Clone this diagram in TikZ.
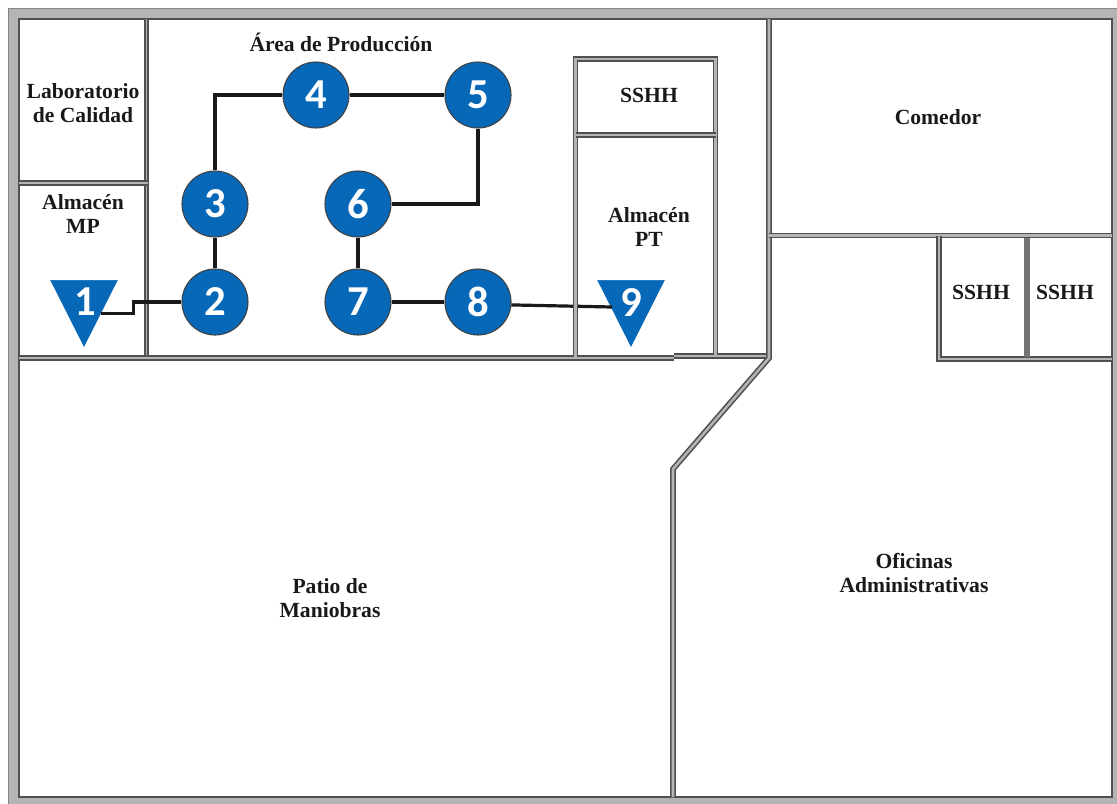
\documentclass[tikz,border=0pt]{standalone}
\usepackage{fontspec}
\setmainfont{Liberation Serif}
\newfontfamily\numfont{Carlito}
\usetikzlibrary{shapes.geometric}
\definecolor{procblue}{HTML}{0868B8}
\definecolor{walldark}{HTML}{505050}
\definecolor{wallmid}{HTML}{B4B4B4}
\tikzset{
  px/.style={x=0.75pt,y=-0.75pt},
  wall/.style={draw=walldark,line width=1.2pt,double=wallmid,double distance=1.9pt,line join=miter},
  thickwall/.style={draw=walldark!80,line width=4.6pt},
  proc/.style={circle,draw=black!75,line width=0.8pt,fill=procblue,minimum size=49.5pt,inner sep=0pt,text=white,font=\numfont\bfseries\fontsize{32}{32}\selectfont},
  store/.style={isosceles triangle,isosceles triangle stretches,shape border rotate=-90,fill=procblue,draw=procblue,line width=0.4pt,minimum width=50pt,minimum height=49.5pt,inner sep=0pt,anchor=apex},
  storenum/.style={text=white,inner sep=0pt,font=\numfont\bfseries\fontsize{32}{32}\selectfont},
  room/.style={align=center,text=black!90,inner sep=0pt,font=\bfseries\fontsize{16.2}{18.4}\selectfont},
  flow/.style={draw=black!90,line width=2.4pt,line join=miter},
}
\begin{document}
\begin{tikzpicture}[px]
\useasboundingbox (0,0) rectangle (1117,803);
\fill[white] (0,0) rectangle (1117,803);
% outer wall band
\fill[wallmid,even odd rule] (8,8) rectangle (1125,811) (19,19) rectangle (1112,797);
\draw[walldark!70,line width=1.1pt] (1125,8.5) -- (8.5,8.5) -- (8.5,811);
\draw[walldark,line width=1.6pt] (19,19) rectangle (1112,797);
% nodes
\node[proc] (n2) at (215,302) {2};
\node[proc] (n3) at (215,204) {3};
\node[proc] (n4) at (316,95) {4};
\node[proc] (n5) at (478,95) {5};
\node[proc] (n6) at (358,204) {6};
\node[proc] (n7) at (358,302) {7};
\node[proc] (n8) at (478,302) {8};
\node[store] (n1) at (84,347) {};
\node[store] (n9) at (631,347) {};
\node[storenum] (l1) at (85,302) {1};
\node[storenum] (l9) at (631,303) {9};
\coordinate (c9) at (612,307);
% connector that passes under the wall
\draw[flow] (n8.-5) -- (c9);
% walls
\draw[wall,double distance=1.3pt] (146.5,19) -- (146.5,357);
\draw[wall] (19,183) -- (148,183);
\draw[wall] (19,358) -- (674,358);
\draw[wall] (674,356) -- (769,356);
\draw[wall] (575.5,357) -- (575.5,59) -- (715.5,59) -- (715.5,355);
\draw[wall] (575.5,135) -- (715.5,135);
\draw[wall] (769,19) -- (769,358) -- (673,469) -- (673,797);
\draw[wall] (769,235.5) -- (1112,235.5);
\draw[wall] (1112,359) -- (939,359) -- (939,236);
\draw[thickwall] (1027,238) -- (1027,357);
% connectors
\draw[flow] (n1.left side) -- ++(33,0) |- (n2.west);
\draw[flow] (n2.north) -- (n3.south);
\draw[flow] (n3.north) |- (n4.west);
\draw[flow] (n4.east) -- (n5.west);
\draw[flow] (n5.south) |- (n6.east);
\draw[flow] (n6.south) -- (n7.north);
\draw[flow] (n7.east) -- (n8.west);
% labels
\node[room] (t1) at (83,103) {Laboratorio\\de Calidad};
\node[room] (t2) at (83,214) {Almacén\\MP};
\node[room] (t3) at (341,42) {Área de Producción};
\node[room] (t4) at (649,95) {SSHH};
\node[room] (t5) at (649,227) {Almacén\\PT};
\node[room] (t6) at (938,117) {Comedor};
\node[room] (t7) at (981,292) {SSHH};
\node[room] (t8) at (1065,292) {SSHH};
\node[room] (t9) at (330,598) {Patio de\\Maniobras};
\node[room] (t10) at (914,573) {Oficinas\\Administrativas};
\end{tikzpicture}
\end{document}
